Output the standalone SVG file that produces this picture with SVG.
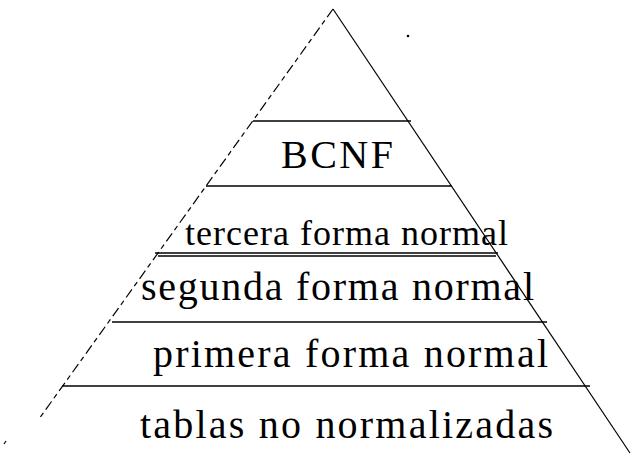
<svg xmlns="http://www.w3.org/2000/svg" width="633" height="457" viewBox="0 0 633 457">
  <style>
    .lbl { font-family: "Liberation Serif", "Times New Roman", serif; fill: #000; font-size: 40px; }
    .lbl.sm { font-size: 36px; }
    .tier { stroke: #000; stroke-width: 1.6; fill: none; }
    .side { stroke: #000; stroke-width: 1.2; fill: none; }
    .dash { stroke-dasharray: 10 4 5 4; }
  </style>
  <rect width="633" height="457" fill="#fff"/>
  <g id="frame">
    <line class="side dash" x1="333" y1="9" x2="39" y2="419"/>
    <line class="side" x1="333" y1="9" x2="630" y2="453"/>
    <circle cx="408" cy="36" r="1.3" fill="#000"/>
    <line class="side" x1="6" y1="441" x2="4" y2="444"/>
  </g>
  <g id="bcnf">
    <line class="tier" x1="253" y1="121" x2="411" y2="121"/>
    <text class="lbl" x="281" y="168" textLength="112" lengthAdjust="spacing">BCNF</text>
  </g>
  <g id="tercera">
    <line class="tier" x1="206" y1="186" x2="452" y2="186"/>
    <text class="lbl sm" x="185" y="245" textLength="323" lengthAdjust="spacing">tercera forma normal</text>
  </g>
  <g id="segunda">
    <line class="tier" x1="155" y1="253" x2="498" y2="253"/>
    <line class="tier" x1="158" y1="256" x2="496" y2="256" stroke-width="1"/>
    <text class="lbl" x="141" y="300" textLength="393" lengthAdjust="spacing">segunda forma normal</text>
  </g>
  <g id="primera">
    <line class="tier" x1="112" y1="322" x2="547" y2="322"/>
    <text class="lbl" x="153" y="367" textLength="395" lengthAdjust="spacing">primera forma normal</text>
  </g>
  <g id="tablas">
    <line class="tier" x1="62" y1="386" x2="590" y2="386"/>
    <text class="lbl" x="140" y="438" textLength="413" lengthAdjust="spacing">tablas no normalizadas</text>
  </g>
</svg>
